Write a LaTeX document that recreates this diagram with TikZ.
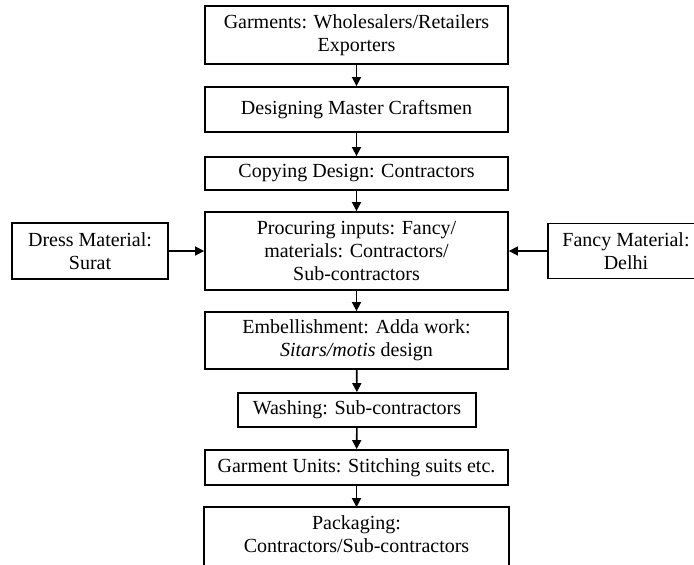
\documentclass[tikz,border=0pt]{standalone}
\usepackage{fontspec}
\setmainfont{Liberation Serif}
\usetikzlibrary{arrows.meta}
\begin{document}
\begin{tikzpicture}[x=1pt,y=-1pt,
  box/.style={draw, line width=1.8pt, align=center, inner sep=0pt,
    minimum width=303pt, font=\fontsize{20}{23}\selectfont},
  sidebox/.style={box, minimum width=156pt},
  arr/.style={line width=1.6pt, -{Triangle[length=9pt,width=9pt]}}]
\clip (0,0) rectangle (694,565);
\fill[white] (0,0) rectangle (694,565);
\node[box, minimum height=58pt] (b1) at (356.5,35) {Garments: Wholesalers/Retailers\\Exporters};
\node[box, minimum height=45pt] (b2) at (356.5,109.5) {Designing Master Craftsmen};
\node[box, minimum height=33pt] (b3) at (356.5,173.5) {Copying Design: Contractors};
\node[box, minimum height=78pt] (b4) at (356.5,251) {Procuring inputs: Fancy/\\materials: Contractors/\\Sub-contractors};
\node[sidebox, minimum height=56pt] (dress) at (90,251) {Dress Material:\\Surat};
\node[sidebox, minimum height=55pt] (fancy) at (626,251) {Fancy Material:\\Delhi};
\node[box, minimum height=57pt] (b5) at (356.5,340.5) {Embellishment: Adda work:\\\textit{Sitars/motis} design};
\node[box, minimum width=238pt, minimum height=34pt] (b6) at (357,410) {Washing: Sub-contractors};
\node[box, minimum height=35pt] (b7) at (356.5,467.5) {Garment Units: Stitching suits etc.};
\node[box, draw=none, minimum height=52pt] (pk) at (356.5,534) {Packaging:\\Contractors/Sub-contractors};
\draw[line width=1.8pt] (pk.north west) rectangle ([yshift=-20pt]pk.south east);
\draw[arr] (b1) -- (b2);
\draw[arr] (b2) -- (b3);
\draw[arr] (b3) -- (b4);
\draw[arr] (b4) -- (b5);
\draw[arr] (b5) -- (b6);
\draw[arr] (b6) -- (b7);
\draw[arr] (b7) -- (pk.north);
\draw[arr] (dress) -- (b4);
\draw[arr] (fancy) -- (b4);
\end{tikzpicture}
\end{document}
